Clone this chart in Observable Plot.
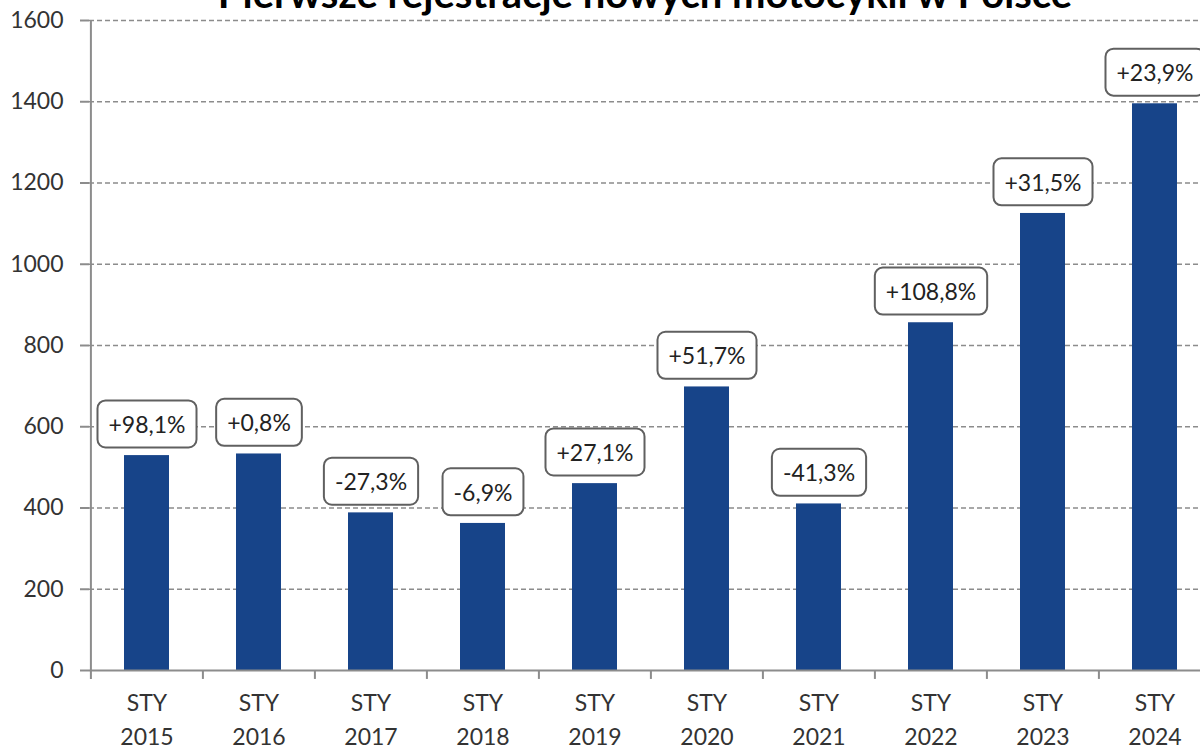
<!DOCTYPE html>
<html>
<head>
<meta charset="utf-8">
<script src="https://cdn.jsdelivr.net/npm/d3@7"></script>
<script src="https://cdn.jsdelivr.net/npm/@observablehq/plot@0.6"></script>
<style>
  html, body { margin: 0; padding: 0; background: #fff; overflow: hidden; }
  #chart svg { overflow: hidden; display: block; }
</style>
</head>
<body>
<div id="chart"></div>
<script>
const title = "Pierwsze rejestracje nowych motocykli w Polsce";
const years = ["2015", "2016", "2017", "2018", "2019", "2020", "2021", "2022", "2023", "2024"];
const monthLabel = "STY";
const values = [529, 533, 388, 362, 460, 698, 410, 856, 1125, 1395];
const changes = ["+98,1%", "+0,8%", "-27,3%", "-6,9%", "+27,1%", "+51,7%", "-41,3%", "+108,8%", "+31,5%", "+23,9%"];
const yTicks = [0, 200, 400, 600, 800, 1000, 1200, 1400, 1600];

const data = years.map((y, i) => ({year: y, value: values[i], change: changes[i]}));

const W = 1200, H = 746;
const xRange = [89, 1211];
const step = (xRange[1] - xRange[0]) / years.length;
const gray = "#8c8c8c";
const font = "Lato, 'Open Sans', sans-serif";

const plot = Plot.plot({
  width: W,
  height: H,
  marginLeft: 89,
  marginRight: 0,
  marginTop: 20,
  marginBottom: 76,
  style: {fontFamily: font, fontSize: "23px", color: "#404040", background: "#fff"},
  x: {domain: years, range: xRange, paddingInner: 0.6, paddingOuter: 0.3, align: 0.5},
  y: {domain: [0, 1600]},
  marks: [
    Plot.ruleY(yTicks.filter(d => d > 0), {stroke: gray, strokeWidth: 1.6, strokeDasharray: "5,3"}),
    Plot.barY(data, {x: "year", y: "value", fill: "#174489"}),
    Plot.ruleY([0], {stroke: gray, strokeWidth: 2}),
    Plot.ruleX([years[0]], {dx: -step / 2, y1: -22, y2: 1600, stroke: gray, strokeWidth: 2}),
    Plot.ruleX(years.slice(1), {dx: -step / 2, y1: 0, y2: -22, stroke: gray, strokeWidth: 2}),
    Plot.axisY({ticks: yTicks, tickFormat: d => String(d), tickSize: 9, tickPadding: 17, stroke: gray, strokeWidth: 2, fill: "#333", fontSize: 23, label: null}),
    Plot.axisX({tickSize: 0, tickPadding: 17, tickFormat: d => `${monthLabel}\n${d}`, lineHeight: 1.45, fill: "#333", fontSize: 23, label: null}),
    Plot.text(data, {x: "year", y: "value", text: "change", dy: -30, lineAnchor: "middle", fill: "#222", fontSize: 23}),
    Plot.text([title], {frameAnchor: "top", dy: -13, lineAnchor: "bottom", fontWeight: "bold", fontSize: 40, fill: "#000"})
  ]
});

document.getElementById("chart").appendChild(plot);

// rounded boxes behind the change labels
const NS = "http://www.w3.org/2000/svg";
const labelSet = new Set(changes);
plot.querySelectorAll("text").forEach(t => {
  if (!labelSet.has(t.textContent)) return;
  const b = t.getBBox();
  const cx = b.x + b.width / 2;
  const cy = b.y + b.height / 2;
  const w = b.width + 22, h = 47;
  const r = document.createElementNS(NS, "rect");
  r.setAttribute("x", cx - w / 2);
  r.setAttribute("y", cy - h / 2);
  r.setAttribute("width", w);
  r.setAttribute("height", h);
  r.setAttribute("rx", 8);
  r.setAttribute("fill", "#fff");
  r.setAttribute("stroke", "#606060");
  r.setAttribute("stroke-width", 2);
  const tr = t.getAttribute("transform");
  if (tr) r.setAttribute("transform", tr);
  t.parentNode.insertBefore(r, t);
});
</script>
</body>
</html>
